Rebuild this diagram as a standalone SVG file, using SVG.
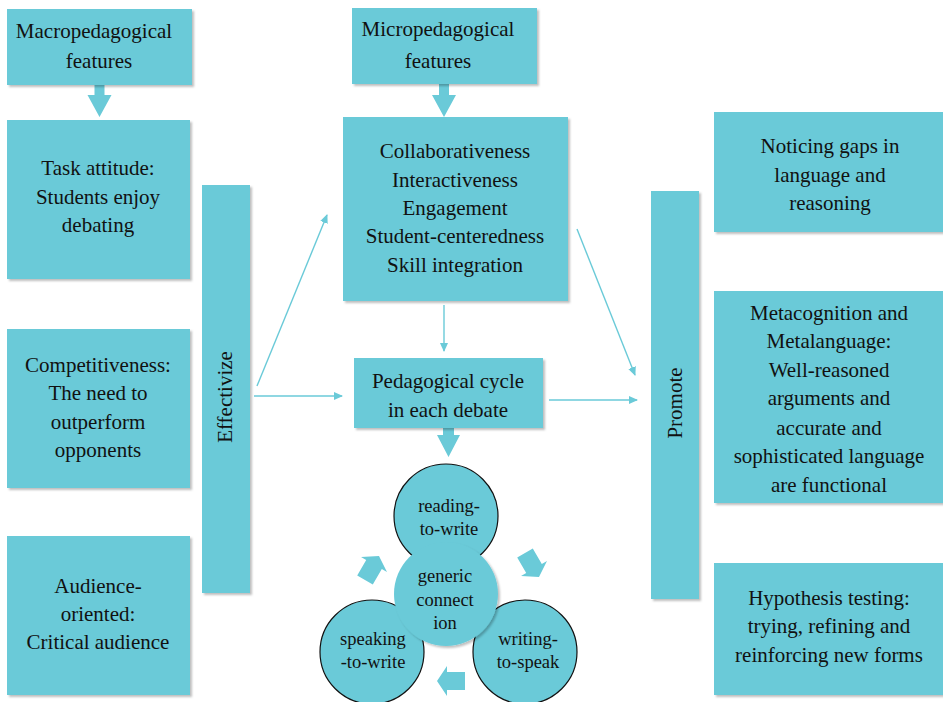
<svg xmlns="http://www.w3.org/2000/svg" width="943" height="702" viewBox="0 0 943 702">
<defs>
<style>
.box{fill:#6ACAD8;filter:url(#sh)}
.t{font-family:"Liberation Serif",serif;font-size:21px;fill:#111;text-anchor:middle}
.ct{font-family:"Liberation Serif",serif;font-size:18.5px;fill:#111;text-anchor:middle}
.circ{fill:#6ACAD8;stroke:#111;stroke-width:1.2}
.blk{fill:#6ACAD8}
.ln{stroke:#6ACAD8;stroke-width:1.4;fill:none;marker-end:url(#ah)}
</style>
<filter id="sh" x="-10%" y="-10%" width="130%" height="130%">
<feDropShadow dx="2" dy="2" stdDeviation="1" flood-color="#000" flood-opacity="0.25"/>
</filter>
<marker id="ah" markerWidth="10" markerHeight="10" refX="8" refY="4" orient="auto" markerUnits="userSpaceOnUse">
<path d="M0,0 L9,4 L0,8 Z" fill="#6ACAD8"/>
</marker>
<path id="sa" d="M-14,-9 L4,-9 L4,-15 L14,0 L4,15 L4,9 L-14,9 Z"/>
</defs>
<rect width="943" height="702" fill="#fff"/>

<g id="connectors">
<path class="blk" d="M94.5,85 L104.5,85 L104.5,95 L111.5,95 L99.5,117 L87.5,95 L94.5,95 Z"/>
<path class="blk" d="M439,84 L449,84 L449,95 L456,95 L444,117 L432,95 L439,95 Z"/>
<path class="blk" d="M443,428 L454,428 L454,435 L460,435 L448.5,457 L437,435 L443,435 Z"/>
<line class="ln" x1="257" y1="386" x2="327" y2="215"/>
<line class="ln" x1="254" y1="396" x2="342" y2="396"/>
<line class="ln" x1="444" y1="305" x2="444" y2="351"/>
<line class="ln" x1="577" y1="229" x2="635" y2="375"/>
<line class="ln" x1="549" y1="400" x2="637" y2="400"/>
<use href="#sa" class="blk" transform="translate(372,568) rotate(-60)"/>
<use href="#sa" class="blk" transform="translate(532,565) rotate(60)"/>
<use href="#sa" class="blk" transform="translate(451,681) rotate(180)"/>
</g>

<g id="macro">
<rect class="box" x="7" y="9" width="185" height="76"/>
<text class="t" x="94" y="38">Macropedagogical</text>
<text class="t" x="99" y="68">features</text>
</g>
<g id="task">
<rect class="box" x="7" y="120" width="183" height="159"/>
<text class="t" x="98" y="175">Task attitude:</text>
<text class="t" x="98" y="204">Students enjoy</text>
<text class="t" x="98" y="232">debating</text>
</g>
<g id="competitiveness">
<rect class="box" x="7" y="329" width="183" height="159"/>
<text class="t" x="98" y="372">Competitiveness:</text>
<text class="t" x="98" y="400">The need to</text>
<text class="t" x="98" y="429">outperform</text>
<text class="t" x="98" y="457">opponents</text>
</g>
<g id="audience">
<rect class="box" x="7" y="536" width="183" height="159"/>
<text class="t" x="98" y="593">Audience-</text>
<text class="t" x="98" y="621">oriented:</text>
<text class="t" x="98" y="649">Critical audience</text>
</g>
<g id="effectivize">
<rect class="box" x="202" y="185" width="48" height="408"/>
<text class="t" transform="translate(232,397) rotate(-90)">Effectivize</text>
</g>
<g id="micro">
<rect class="box" x="352" y="8" width="185" height="76"/>
<text class="t" x="438" y="36">Micropedagogical</text>
<text class="t" x="438" y="68">features</text>
</g>
<g id="features">
<rect class="box" x="343" y="117" width="225" height="184"/>
<text class="t" x="455" y="158">Collaborativeness</text>
<text class="t" x="455" y="187">Interactiveness</text>
<text class="t" x="455" y="215">Engagement</text>
<text class="t" x="455" y="243">Student-centeredness</text>
<text class="t" x="455" y="272">Skill integration</text>
</g>
<g id="cycle">
<rect class="box" x="354" y="358" width="189" height="70"/>
<text class="t" x="448" y="388">Pedagogical cycle</text>
<text class="t" x="448" y="417">in each debate</text>
</g>
<g id="promote">
<rect class="box" x="651" y="191" width="48" height="408"/>
<text class="t" transform="translate(682,403) rotate(-90)">Promote</text>
</g>
<g id="noticing">
<rect class="box" x="714" y="112" width="232" height="120"/>
<text class="t" x="830" y="153">Noticing gaps in</text>
<text class="t" x="830" y="182">language and</text>
<text class="t" x="830" y="210">reasoning</text>
</g>
<g id="metacognition">
<rect class="box" x="714" y="291" width="232" height="212"/>
<text class="t" x="829" y="320">Metacognition and</text>
<text class="t" x="829" y="348">Metalanguage:</text>
<text class="t" x="829" y="377">Well-reasoned</text>
<text class="t" x="829" y="405">arguments and</text>
<text class="t" x="829" y="435">accurate and</text>
<text class="t" x="829" y="463">sophisticated language</text>
<text class="t" x="829" y="492">are functional</text>
</g>
<g id="hypothesis">
<rect class="box" x="714" y="563" width="232" height="132"/>
<text class="t" x="829" y="605">Hypothesis testing:</text>
<text class="t" x="829" y="633">trying, refining and</text>
<text class="t" x="829" y="662">reinforcing new forms</text>
</g>

<g id="speaking">
<circle class="circ" cx="372" cy="652" r="52"/>
<text class="ct" x="373" y="645">speaking</text>
<text class="ct" x="373" y="668">-to-write</text>
</g>
<g id="writing">
<circle class="circ" cx="525" cy="652" r="52"/>
<text class="ct" x="528" y="645">writing-</text>
<text class="ct" x="528" y="668">to-speak</text>
</g>
<g id="reading">
<circle class="circ" cx="446" cy="516" r="52"/>
<text class="ct" x="449" y="512">reading-</text>
<text class="ct" x="449" y="535">to-write</text>
</g>
<g id="generic">
<circle cx="446" cy="594" r="52" fill="#6ACAD8" filter="url(#sh)"/>
<text class="ct" x="445" y="582">generic</text>
<text class="ct" x="445" y="606">connect</text>
<text class="ct" x="445" y="629">ion</text>
</g>
</svg>
